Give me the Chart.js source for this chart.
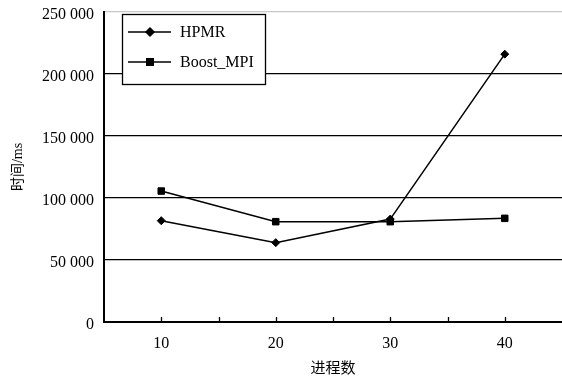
<!DOCTYPE html>
<html>
<head>
<meta charset="utf-8">
<script src="https://cdn.jsdelivr.net/npm/chart.js@4/dist/chart.umd.min.js"></script>
<style>
  html, body { margin: 0; padding: 0; background: #fff; }
  canvas { display: block; }
</style>
</head>
<body>
<canvas id="c" width="562" height="381"></canvas>
<script>
// Number of processes on the horizontal axis
const processCounts = ['10', '20', '30', '40'];
// Run time in ms for each implementation
const hpmrTimes = [81700, 64000, 83000, 216000];
const boostMpiTimes = [105600, 80900, 80900, 83600];
// Value axis range and step
const yMin = 0;
const yMax = 250000;
const yStep = 50000;

const SERIF = '"Liberation Serif", "Times New Roman", serif';
const TITLE_FONT = '"Liberation Serif", "Noto Sans CJK SC", serif';

function formatThousands(v) {
  return String(v).replace(/\B(?=(\d{3})+(?!\d))/g, ' ');
}

// Short tick marks pointing up into the plot, at category centres and boundaries
const inwardTicks = {
  id: 'inwardTicks',
  afterDraw(chart) {
    const xs = chart.scales.x;
    const ctx = chart.ctx;
    const y0 = chart.chartArea.bottom;
    const n = xs.ticks.length;
    const pts = [];
    for (let i = 0; i < n; i++) {
      const p = xs.getPixelForTick(i);
      pts.push(p);
      if (i < n - 1) pts.push((p + xs.getPixelForTick(i + 1)) / 2);
    }
    ctx.save();
    ctx.strokeStyle = '#000';
    ctx.lineWidth = 1.3;
    ctx.beginPath();
    pts.forEach(p => {
      ctx.moveTo(Math.round(p) + 0.5, y0);
      ctx.lineTo(Math.round(p) + 0.5, y0 - 5);
    });
    ctx.stroke();
    ctx.restore();
  }
};

// Boxed legend inside the plot, line + marker per series
const boxedLegend = {
  id: 'boxedLegend',
  afterDraw(chart) {
    const ctx = chart.ctx;
    const area = chart.chartArea;
    const bx = area.left + 18, by = area.top + 2, bw = 143, bh = 70;
    ctx.save();
    ctx.fillStyle = '#fff';
    ctx.fillRect(bx, by, bw, bh);
    ctx.strokeStyle = '#000';
    ctx.lineWidth = 1.3;
    ctx.strokeRect(bx + 0.5, by + 0.5, bw, bh);
    chart.data.datasets.forEach((ds, i) => {
      const ry = by + 18 + i * 30;
      ctx.strokeStyle = '#000';
      ctx.lineWidth = 1.5;
      ctx.beginPath();
      ctx.moveTo(bx + 6, ry);
      ctx.lineTo(bx + 49, ry);
      ctx.stroke();
      ctx.fillStyle = '#000';
      Chart.helpers.drawPoint(ctx, {
        pointStyle: ds.pointStyle,
        radius: ds.pointRadius,
        rotation: 0,
        borderWidth: 1
      }, bx + 28, ry);
      ctx.fillStyle = '#000';
      ctx.font = '16px ' + SERIF;
      ctx.textAlign = 'left';
      ctx.textBaseline = 'middle';
      ctx.fillText(ds.label, bx + 58, ry + 1);
    });
    ctx.restore();
  }
};

new Chart(document.getElementById('c'), {
  type: 'line',
  data: {
    labels: processCounts,
    datasets: [
      {
        label: 'HPMR',
        data: hpmrTimes,
        borderColor: '#000',
        backgroundColor: '#000',
        borderWidth: 1.5,
        pointStyle: 'rectRot',
        pointRadius: 4,
        pointBorderWidth: 1,
        tension: 0
      },
      {
        label: 'Boost_MPI',
        data: boostMpiTimes,
        borderColor: '#000',
        backgroundColor: '#000',
        borderWidth: 1.5,
        pointStyle: 'rect',
        pointRadius: 4.6,
        pointBorderWidth: 1,
        tension: 0
      }
    ]
  },
  options: {
    responsive: false,
    devicePixelRatio: 1,
    animation: false,
    layout: { autoPadding: false, padding: { top: 12, right: 0, left: 0, bottom: 0 } },
    plugins: {
      legend: { display: false },
      tooltip: { enabled: false }
    },
    scales: {
      x: {
        type: 'category',
        offset: true,
        grid: { display: true, drawOnChartArea: false, drawTicks: false },
        border: { display: true, color: '#000', width: 2 },
        ticks: {
          color: '#000',
          font: { family: SERIF, size: 16 },
          padding: 12,
          maxRotation: 0
        },
        title: {
          display: true,
          text: '进程数',
          color: '#000',
          font: { family: TITLE_FONT, size: 15 },
          padding: { top: 0, bottom: 3 }
        },
        afterFit(scale) {
          scale.height = 59;
          scale.paddingLeft = 0;
          scale.paddingRight = 0;
        }
      },
      y: {
        min: yMin,
        max: yMax,
        grid: {
          drawTicks: false,
          color: ctx => (ctx.tick && ctx.tick.value === yMax ? '#c8c8c8' : '#000'),
          lineWidth: 1.3
        },
        border: { display: true, color: '#000', width: 2 },
        ticks: {
          stepSize: yStep,
          color: '#000',
          font: { family: SERIF, size: 16 },
          padding: 10,
          labelOffset: 3,
          callback: v => formatThousands(v)
        },
        title: {
          display: true,
          text: '时间/ms',
          color: '#000',
          font: { family: TITLE_FONT, size: 14 },
          padding: { top: 10, bottom: 0 }
        },
        afterFit(scale) {
          scale.width = 104;
          scale.paddingTop = 0;
          scale.paddingBottom = 0;
        }
      }
    }
  },
  plugins: [inwardTicks, boxedLegend]
});
</script>
</body>
</html>
